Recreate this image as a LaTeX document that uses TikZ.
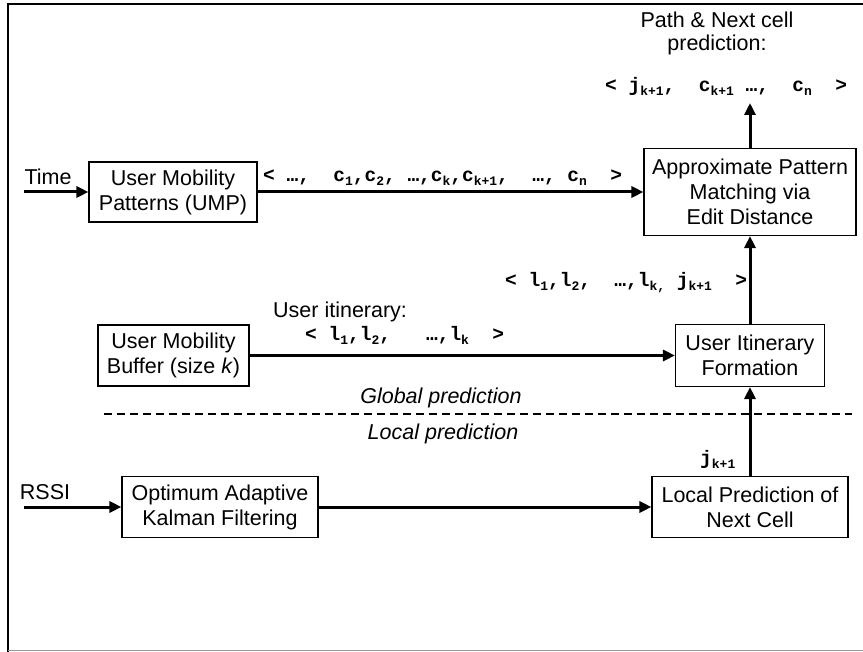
\documentclass[tikz,border=0pt]{standalone}
\usepackage{fontspec}
\setmainfont{Liberation Sans}
\newfontfamily\monob{Liberation Mono}
\usetikzlibrary{arrows.meta}
\newcommand\sbx[1]{\raisebox{-3.5pt}{\fontsize{13}{13}\selectfont #1}}
\begin{document}
\begin{tikzpicture}[x=1pt,y=-1pt,
  box/.style={draw,line width=1.1pt,align=center,inner sep=0pt,font=\fontsize{21.5}{25}\selectfont},
  arr/.style={line width=3pt,-{Triangle[length=12pt,width=11pt]}},
  seq/.style={inner sep=0pt,anchor=base west,font=\fontsize{19.5}{19.5}\selectfont\monob\bfseries},
  lbl/.style={inner sep=0pt,font=\fontsize{21.5}{25}\selectfont},
  ilbl/.style={inner sep=0pt,anchor=base,font=\fontsize{21.5}{25}\selectfont\itshape},
  sep/.style={line width=1.3pt,dash pattern=on 8pt off 5pt}]
\useasboundingbox (0,0) rectangle (863,652);
\draw[line width=1.5pt] (8,652) -- (8,4) -- (863,4);
\draw[black!40,line width=1.5pt] (8,650.5) -- (863,650.5);
% boxes
\node[box,minimum width=168pt,minimum height=60pt] (ump) at (173,192) {User Mobility\\Patterns (UMP)};
\node[box,minimum width=212pt,minimum height=87pt] (apm) at (750,192) {Approximate Pattern\\Matching via\\Edit Distance};
\node[box,minimum width=151pt,minimum height=61pt] (umb) at (173.5,355.5) {User Mobility\\Buffer (size \textit{k})};
\node[box,minimum width=149pt,minimum height=62pt] (uif) at (750,355.5) {User Itinerary\\Formation};
\node[box,minimum width=196pt,minimum height=61pt] (oak) at (220,507) {Optimum Adaptive\\Kalman Filtering};
\node[box,minimum width=196pt,minimum height=61pt] (lpn) at (750,507) {Local Prediction of\\Next Cell};
% free ends
\coordinate (tin) at (24,192);
\coordinate (rin) at (24,507);
\coordinate (out) at (750,103);
\coordinate (dl) at (104,414);
\coordinate (dr) at (852,414);
% connectors
\draw[arr] (tin) -- (ump);
\draw[arr] (ump) -- (apm);
\draw[arr] (umb) -- (uif);
\draw[arr] (rin) -- (oak);
\draw[arr] (oak) -- (lpn);
\draw[arr] (lpn) -- (uif);
\draw[arr] (uif) -- (apm);
\draw[arr] (apm) -- (out);
\draw[sep] (dl) -- (dr);
% labels
\node[lbl,anchor=base] (tm) at (48,185) {Time};
\node[lbl,anchor=base] (rs) at (45,500) {RSSI};
\node[lbl,anchor=base] (pn1) at (717,28) {Path \& Next cell};
\node[lbl,anchor=base] (pn2) at (717,51) {prediction:};
\node[lbl,anchor=base west] (ui) at (273,318) {User itinerary:};
\node[ilbl] (gp) at (441,404) {Global prediction};
\node[ilbl] (lp) at (443,440) {Local prediction};
% sequences
\node[seq] (s1) at (263,182) {<\ …,\ \ c\sbx{1},c\sbx{2},\ …,c\sbx{k},c\sbx{k+1},\ \ …,\ c\sbx{n}\ \ >};
\node[seq] (s2) at (505,287) {<\ l\sbx{1},l\sbx{2},\ \ …,l\sbx{k,}\ j\sbx{k+1}\ \ >};
\node[seq] (s3) at (305,341) {<\ l\sbx{1},l\sbx{2},\ \ \ …,l\sbx{k}\ \ >};
\node[seq] (s4) at (605,92) {<\ j\sbx{k+1},\ \ c\sbx{k+1}\ …,\ \ c\sbx{n}\ \ >};
\node[seq] (s5) at (700,465) {j\sbx{k+1}};
\end{tikzpicture}
\end{document}
